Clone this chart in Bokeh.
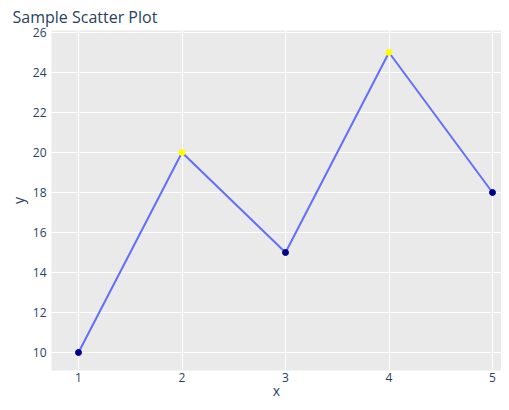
from bokeh.plotting import figure
from bokeh.models import Range1d, FixedTicker, ColumnDataSource
from bokeh.embed import file_html
from bokeh.resources import INLINE

xs = [1, 2, 3, 4, 5]
ys = [10, 20, 15, 25, 18]
marker_colors = ["darkblue", "yellow", "darkblue", "yellow", "darkblue"]
x_ticks = [1, 2, 3, 4, 5]
y_ticks = [10, 12, 14, 16, 18, 20, 22, 24, 26]

TXT = "#2a3f5f"
FONT = "Open Sans"

src = ColumnDataSource(dict(x=xs, y=ys, c=marker_colors))

p = figure(width=501, height=402, output_backend="svg", toolbar_location=None,
           x_range=Range1d(0.739, 5.087), y_range=Range1d(9.1, 26.1),
           title="Sample Scatter Plot")
p.min_border_left = 51
p.min_border_right = 0
p.min_border_top = 30
p.min_border_bottom = 32
p.background_fill_color = "#EAEAEA"
p.border_fill_color = "white"
p.outline_line_color = None

p.title.text_font = FONT
p.title.text_font_size = "16px"
p.title.text_font_style = "normal"
p.title.text_color = TXT
p.title.offset = -39
p.title.standoff = 5

p.line("x", "y", source=src, line_color="#636EFA", line_width=2)
p.scatter("x", "y", source=src, size=6, fill_color="c", line_color="c")

p.xaxis.ticker = FixedTicker(ticks=x_ticks)
p.yaxis.ticker = FixedTicker(ticks=y_ticks)
for ax in (p.xaxis[0], p.yaxis[0]):
    ax.axis_line_color = None
    ax.major_tick_line_color = None
    ax.minor_tick_line_color = None
    ax.major_label_text_font = FONT
    ax.major_label_text_font_size = "12px"
    ax.major_label_text_color = TXT
    ax.axis_label_text_font = FONT
    ax.axis_label_text_font_size = "14px"
    ax.axis_label_text_font_style = "normal"
    ax.axis_label_text_color = TXT
p.xaxis.axis_label = "x"
p.yaxis.axis_label = "y"
p.xaxis.major_label_standoff = -4
p.xaxis.axis_label_standoff = -4
p.yaxis.major_label_standoff = -1
p.yaxis.axis_label_standoff = 2

p.xgrid.grid_line_color = "white"
p.ygrid.grid_line_color = "white"
p.xgrid.grid_line_width = 1
p.ygrid.grid_line_width = 1

open("out.html", "w").write(file_html(p, INLINE))
